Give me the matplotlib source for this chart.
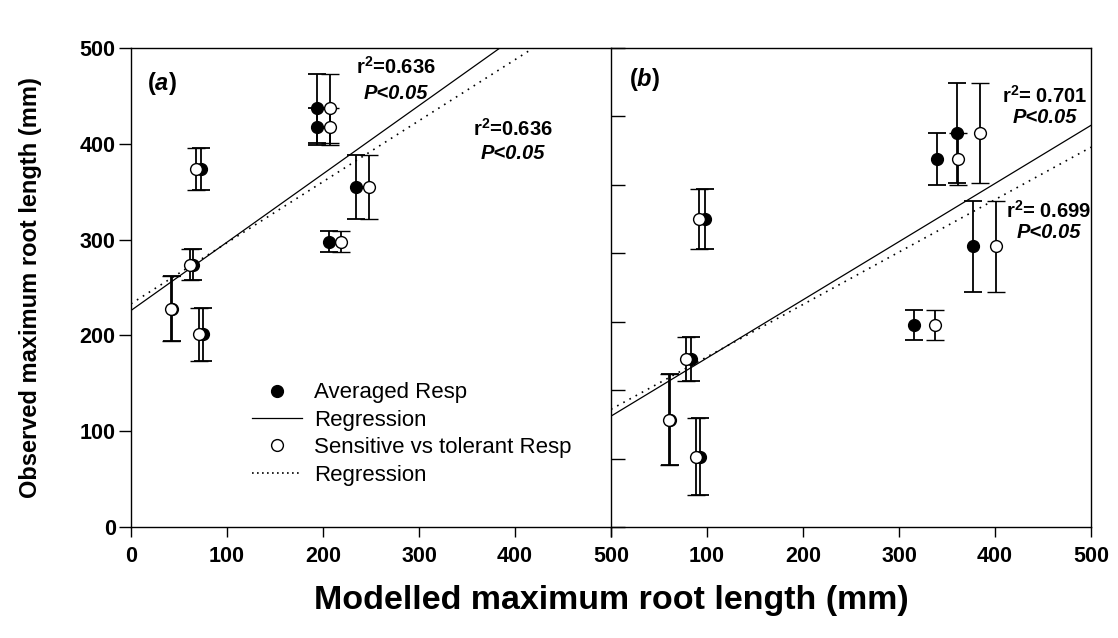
import matplotlib
matplotlib.use("Agg")
import matplotlib.pyplot as plt
import numpy as np
from matplotlib.lines import Line2D

plt.rcParams['font.family'] = ['Liberation Sans', 'DejaVu Sans']
plt.rcParams['mathtext.fontset'] = 'custom'
plt.rcParams['mathtext.rm'] = 'Liberation Sans'
plt.rcParams['mathtext.bf'] = 'Liberation Sans:bold'
plt.rcParams['mathtext.it'] = 'Liberation Sans:italic'
plt.rcParams['mathtext.bfit'] = 'Liberation Sans:italic:bold'

# ---- data: panel (a) ----
a_avg_x = [43, 65, 73, 75, 194, 194, 206, 234]
a_avg_y = [228, 274, 374, 201, 437, 418, 298, 355]
a_avg_err = [34, 16, 22, 28, 36, 19, 11, 33]
a_sen_x = [42, 61, 68, 71, 207, 207, 219, 248]
a_sen_y = [228, 274, 374, 201, 437, 418, 298, 355]
a_sen_err = [34, 16, 22, 28, 36, 19, 11, 33]
a_reg_avg = [226, 0.713]   # intercept, slope
a_reg_sen = [233, 0.637]

# ---- data: panel (b) ----
b_avg_x = [61, 83, 93, 98, 316, 340, 360, 377]
b_avg_y = [157, 246, 103, 450, 295, 538, 576, 410]
b_avg_err = [67, 32, 56, 44, 22, 38, 73, 66]
b_sen_x = [60, 78, 89, 92, 337, 361, 384, 401]
b_sen_y = [157, 246, 103, 450, 295, 538, 576, 410]
b_sen_err = [67, 32, 56, 44, 22, 38, 73, 66]
b_reg_avg = [162, 0.850]
b_reg_sen = [172, 0.766]

x_ticks = [0, 100, 200, 300, 400, 500]
y_ticks_a = [0, 100, 200, 300, 400, 500]
y_ticks_b = [0, 100, 200, 300, 400, 500, 600, 700]

W, H = 1118, 638
fig = plt.figure(figsize=(W/100, H/100), dpi=100)
L, B, PW, PH = 131, 527, 480, 479
axa = fig.add_axes([L/W, 1-B/H, PW/W, PH/H])
axb = fig.add_axes([(L+PW)/W, 1-B/H, PW/W, PH/H])

ms = 8.5
cap = 6.5
elw = 1.3
tfs = 15.5

def draw(ax, ax_x, ax_y, ax_e, sx, sy, se, reg1, reg2):
    ax.errorbar(ax_x, ax_y, yerr=ax_e, fmt='o', color='black', mfc='black', mec='black',
                ms=ms, capsize=cap, elinewidth=elw, capthick=elw, zorder=3)
    ax.errorbar(sx, sy, yerr=se, fmt='o', color='black', mfc='white', mec='black',
                ms=ms, mew=1.0, capsize=cap, elinewidth=elw, capthick=elw, zorder=4)
    xx = np.array([0, 500])
    ax.plot(xx, reg1[0] + reg1[1]*xx, color='black', lw=0.9, zorder=2)
    ax.plot(xx, reg2[0] + reg2[1]*xx, color='black', lw=1.2, ls=(0, (1, 3.2)), zorder=2)

draw(axa, a_avg_x, a_avg_y, a_avg_err, a_sen_x, a_sen_y, a_sen_err, a_reg_avg, a_reg_sen)
draw(axb, b_avg_x, b_avg_y, b_avg_err, b_sen_x, b_sen_y, b_sen_err, b_reg_avg, b_reg_sen)

for ax in (axa, axb):
    ax.set_xlim(0, 500)
    ax.set_xticks(x_ticks)
    for s in ax.spines.values():
        s.set_linewidth(1.0)
    ax.tick_params(axis='x', direction='out', length=7, width=1.0, labelsize=tfs, pad=7)

axa.set_ylim(0, 500)
axa.set_yticks(y_ticks_a)
axa.set_xticklabels([str(v) for v in x_ticks], fontweight='bold')
axa.set_yticklabels([str(v) for v in y_ticks_a], fontweight='bold')
axa.tick_params(axis='y', direction='out', length=9, width=1.0, labelsize=tfs, pad=2)
axa.spines['right'].set_visible(False)

axb.set_ylim(0, 700)
axb.set_yticks(y_ticks_b)
axb.tick_params(axis='y', direction='in', length=10, width=1.0, labelleft=False)
axb.set_xticklabels([''] + [str(v) for v in x_ticks[1:]], fontweight='bold')

# panel labels
axa.text(0.033, 0.925, r"($\mathbfit{a}$)", transform=axa.transAxes, fontsize=17,
         fontweight='bold', ha='left', va='center')
axb.text(0.038, 0.935, r"($\mathbfit{b}$)", transform=axb.transAxes, fontsize=17,
         fontweight='bold', ha='left', va='center')

# annotations
afs = 14.5
def ann(ax, x, y1, y2, r):
    ax.text(x, y1, r, fontsize=afs, fontweight='bold', ha='center', va='center')
    ax.text(x, y2, "P<0.05", fontsize=afs, fontweight='bold', fontstyle='italic',
            ha='center', va='center')

ann(axa, 276, 480, 453, r"r$^\mathbf{2}$=0.636")
ann(axa, 398, 416, 390, r"r$^\mathbf{2}$=0.636")
ann(axb, 452, 630, 599, r"r$^\mathbf{2}$= 0.701")
ann(axb, 456, 462, 430, r"r$^\mathbf{2}$= 0.699")

# legend
handles = [
    Line2D([], [], ls='none', marker='o', mfc='black', mec='black', ms=ms),
    Line2D([], [], color='black', lw=0.9),
    Line2D([], [], ls='none', marker='o', mfc='white', mec='black', ms=ms),
    Line2D([], [], color='black', lw=1.2, ls=(0, (1, 2))),
]
labels = ["Averaged Resp", "Regression", "Sensitive vs tolerant Resp", "Regression"]
axa.legend(handles, labels, loc='upper left', bbox_to_anchor=(0.252, 0.302),
           frameon=False, fontsize=16, handlelength=2.25, handletextpad=0.54,
           labelspacing=0.29, borderpad=0, borderaxespad=0)

fig.text(0.027, (1-B/H) + PH/H/2, "Observed maximum root length (mm)", rotation=90,
         fontsize=17, fontweight='bold', ha='center', va='center')
fig.text((L+PW)/W, 0.058, "Modelled maximum root length (mm)", fontsize=24.5,
         fontweight='bold', ha='center', va='center')

fig.savefig("out.png", dpi=100)
